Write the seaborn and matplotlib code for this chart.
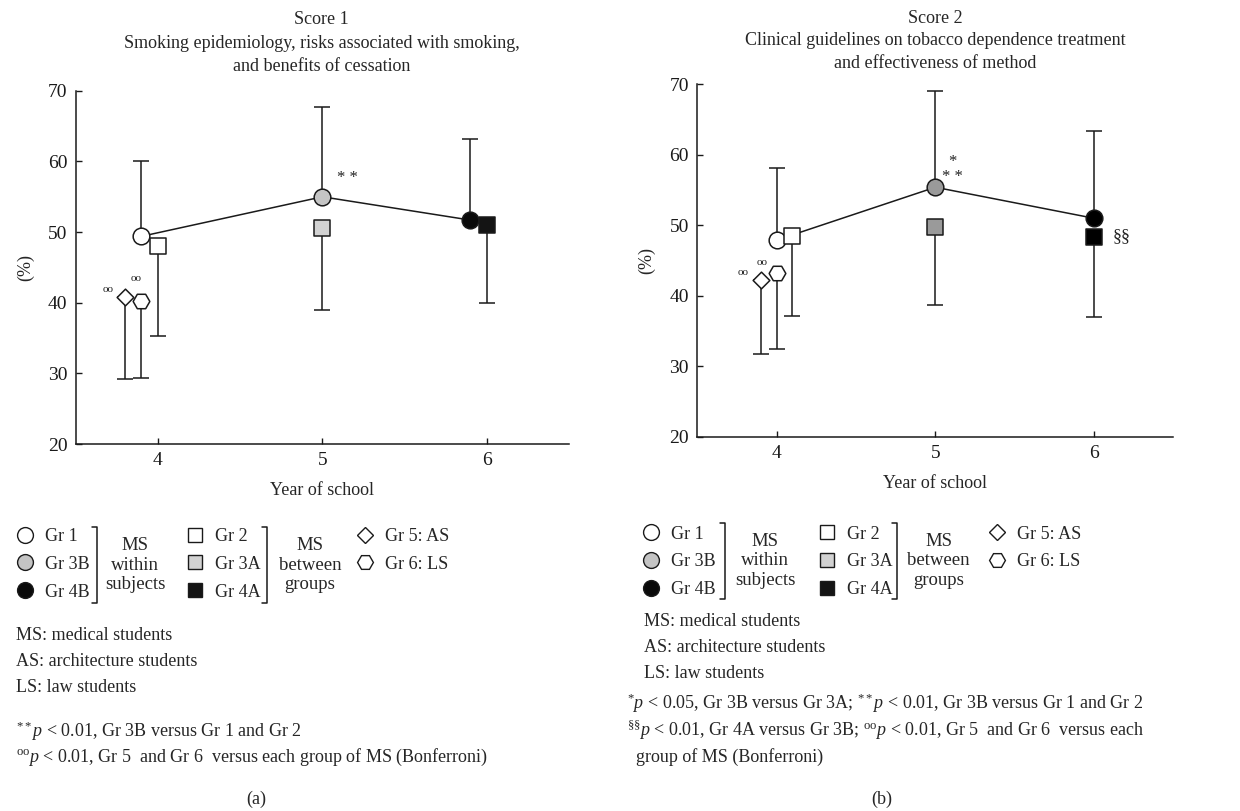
import matplotlib
matplotlib.use("Agg")
import matplotlib.pyplot as plt
import seaborn as sns
import numpy as np
import pandas as pd
from matplotlib.lines import Line2D

sns.set_theme(style="ticks")
plt.rcParams['font.family'] = ['Liberation Serif', 'DejaVu Serif']
plt.rcParams['mathtext.fontset'] = 'custom'
plt.rcParams['mathtext.rm'] = 'Liberation Serif'
plt.rcParams['mathtext.it'] = 'Liberation Serif:italic'

# ---------------- data ----------------
groups = ["Gr 1", "Gr 2", "Gr 3B", "Gr 3A", "Gr 4B", "Gr 4A", "Gr 5: AS", "Gr 6: LS"]
year = [4, 4, 5, 5, 6, 6, 4, 4]
err_dir = [1, -1, 1, -1, 1, -1, -1, -1]      # error bar drawn upward (+1) or downward (-1)

score1_mean = [49.4, 48.1, 55.0, 50.6, 51.7, 51.0, 40.8, 40.3]
score1_sd = [10.7, 12.8, 12.7, 11.6, 11.5, 11.0, 11.6, 10.9]
score2_mean = [47.9, 48.5, 55.4, 49.8, 51.0, 48.4, 42.2, 43.2]
score2_sd = [10.3, 11.4, 13.7, 11.1, 12.4, 11.4, 10.5, 10.8]

within_groups = ["Gr 1", "Gr 3B", "Gr 4B"]   # connected by the line
xticks = [4, 5, 6]
yticks = [20, 30, 40, 50, 60, 70]

titles = ["Score 1\nSmoking epidemiology, risks associated with smoking,\nand benefits of cessation",
          "Score 2\nClinical guidelines on tobacco dependence treatment\nand effectiveness of method"]

# ---------------- style ----------------
dodge1 = [-0.1, 0.0, 0.0, 0.0, -0.1, 0.0, -0.2, -0.1]
dodge2 = [0.0, 0.1, 0.0, 0.0, 0.0, 0.0, -0.1, 0.0]
markers = {"Gr 1": "o", "Gr 2": "s", "Gr 3B": "o", "Gr 3A": "s", "Gr 4B": "o", "Gr 4A": "s",
           "Gr 5: AS": "D", "Gr 6: LS": "H"}
sizes = {"Gr 1": 12, "Gr 2": 11, "Gr 3B": 12, "Gr 3A": 11, "Gr 4B": 12, "Gr 4A": 11,
         "Gr 5: AS": 8.5, "Gr 6: LS": 12}
fill1 = {"Gr 1": "white", "Gr 2": "white", "Gr 3B": "#c4c4c4", "Gr 3A": "#d2d2d2",
         "Gr 4B": "#0a0a0a", "Gr 4A": "#141414", "Gr 5: AS": "white", "Gr 6: LS": "white"}
fill2 = dict(fill1)
fill2["Gr 3B"] = "#9a9a9a"
fill2["Gr 3A"] = "#9a9a9a"
fill2["Gr 4A"] = "#000000"
fill2["Gr 4B"] = "#000000"

fig = plt.figure(figsize=(12.4, 8.11), dpi=100)
ax1 = fig.add_axes([0.061, 0.4525, 0.398, 0.4355])
ax2 = fig.add_axes([0.5623, 0.4612, 0.384, 0.4349])

annots = [
    [("* *", 5.15, 57.7, "center", 12), ("oo", 3.7, 41.9, "center", 8),
     ("oo", 3.87, 43.4, "center", 8)],
    [("*", 5.11, 59.0, "center", 12), ("* *", 5.11, 56.9, "center", 12),
     ("§§", 6.12, 48.4, "left", 13),
     ("oo", 3.79, 43.3, "center", 8), ("oo", 3.91, 44.8, "center", 8)],
]
title_pos = [(0.2595, 0.986, 1.5), (0.7543, 0.988, 1.42)]

for k, (ax, mean, sd, dodge, fills, title) in enumerate(zip(
        [ax1, ax2], [score1_mean, score2_mean], [score1_sd, score2_sd],
        [dodge1, dodge2], [fill1, fill2], titles)):
    df = pd.DataFrame({"group": groups, "year": year, "dodge": dodge,
                       "mean": mean, "sd": sd, "dir": err_dir})
    df["x"] = df["year"] + df["dodge"]
    # error bars (one-sided)
    for _, r in df.iterrows():
        lo = r["sd"] if r["dir"] < 0 else 0
        hi = r["sd"] if r["dir"] > 0 else 0
        ax.errorbar(r["x"], r["mean"], yerr=[[lo], [hi]], fmt="none", ecolor="#1a1a1a",
                    elinewidth=1.1, capsize=6, capthick=1.1, zorder=1)
    # connecting line for within-subject groups
    line_df = df[df["group"].isin(within_groups)]
    sns.lineplot(data=line_df, x="x", y="mean", ax=ax, color="#1a1a1a", lw=1.1,
                 sort=False, zorder=2, legend=False)
    # markers
    for _, r in df.iterrows():
        sns.scatterplot(x=[r["x"]], y=[r["mean"]], ax=ax, marker=markers[r["group"]],
                        s=sizes[r["group"]] ** 2, color=fills[r["group"]],
                        edgecolor="#1a1a1a", linewidth=1.1, zorder=3, legend=False)
    for txt, xx, yy, ha, fs in annots[k]:
        ax.text(xx, yy, txt, ha=ha, va="center", fontsize=fs, color="#222222")
    ax.set_xlim(3.5, 6.5)
    ax.set_ylim(20, 70)
    ax.set_xticks(xticks)
    ax.set_yticks(yticks)
    ax.tick_params(direction="in", length=4, width=1, labelsize=14, colors="#1a1a1a", pad=6)
    sns.despine(ax=ax)
    for s in ["left", "bottom"]:
        ax.spines[s].set_linewidth(1.1)
        ax.spines[s].set_color("#1a1a1a")
    ax.set_xlabel("Year of school", fontsize=13, labelpad=9)
    ax.set_ylabel("(%)", fontsize=13, labelpad=10)
    tx, ty, ls = title_pos[k]
    fig.text(tx, ty, title, ha="center", va="top", fontsize=13, linespacing=ls)

# ---------------- legends ----------------
def handle(g, fills):
    return Line2D([], [], marker=markers[g], ls="none", markersize=sizes[g] * 0.95,
                  markerfacecolor=fills[g], markeredgecolor="#1a1a1a", markeredgewidth=1.0)

leg_fill = dict(fill1)
cols = [["Gr 1", "Gr 3B", "Gr 4B"], ["Gr 2", "Gr 3A", "Gr 4A"], ["Gr 5: AS", "Gr 6: LS"]]
panels = [
    dict(xcol=[0.013, 0.150, 0.287], ytop=0.349, bracket=[0.078, 0.215], brk_y=(0.350, 0.256),
         grp_x=[0.109, 0.250], notes_x=0.013, notes_y=0.2265, fn_x=0.013, fn_y=[0.098, 0.066],
         fn=[r"$^{**}\mathit{p}$ < 0.01, Gr 3B versus Gr 1 and Gr 2",
             r"$^{\mathrm{oo}}\mathit{p}$ < 0.01, Gr 5  and Gr 6  versus each group of MS (Bonferroni)"],
         lab="(a)", lab_x=0.207),
    dict(xcol=[0.518, 0.660, 0.797], ytop=0.352, bracket=[0.585, 0.723], brk_y=(0.355, 0.262),
         grp_x=[0.617, 0.757], notes_x=0.519, notes_y=0.2440, fn_x=0.506, fn_y=[0.133, 0.100, 0.067],
         fn=[r"$^{*}\mathit{p}$ < 0.05, Gr 3B versus Gr 3A; $^{**}\mathit{p}$ < 0.01, Gr 3B versus Gr 1 and Gr 2",
             r"$^{§§}\mathit{p}$ < 0.01, Gr 4A versus Gr 3B; $^{\mathrm{oo}}\mathit{p}$ < 0.01, Gr 5  and Gr 6  versus each",
             r"  group of MS (Bonferroni)"],
         lab="(b)", lab_x=0.711),
]
for P in panels:
    for c, xc in zip(cols, P["xcol"]):
        fig.legend(handles=[handle(g, leg_fill) for g in c], labels=c, loc="upper left",
                   bbox_to_anchor=(xc, P["ytop"]), frameon=False, fontsize=13,
                   handlelength=1.0, handletextpad=0.6, labelspacing=0.6, borderpad=0,
                   borderaxespad=0)
    y0, y1 = P["brk_y"]
    for bx in P["bracket"]:
        fig.add_artist(Line2D([bx - 0.004, bx, bx, bx - 0.004], [y0, y0, y1, y1],
                              transform=fig.transFigure, color="#1a1a1a", lw=1.1))
    fig.text(P["grp_x"][0], (y0 + y1) / 2, "MS\nwithin\nsubjects", ha="center", va="center",
             fontsize=13.5, linespacing=1.2)
    fig.text(P["grp_x"][1], (y0 + y1) / 2, "MS\nbetween\ngroups", ha="center", va="center",
             fontsize=13.5, linespacing=1.2)
    fig.text(P["notes_x"], P["notes_y"],
             "MS: medical students\nAS: architecture students\nLS: law students",
             ha="left", va="top", fontsize=13, linespacing=1.68)
    for t, yy in zip(P["fn"], P["fn_y"]):
        fig.text(P["fn_x"], yy, t, ha="left", va="center", fontsize=13)
    fig.text(P["lab_x"], 0.014, P["lab"], ha="center", va="center", fontsize=13)

fig.savefig("out.png", dpi=100)
